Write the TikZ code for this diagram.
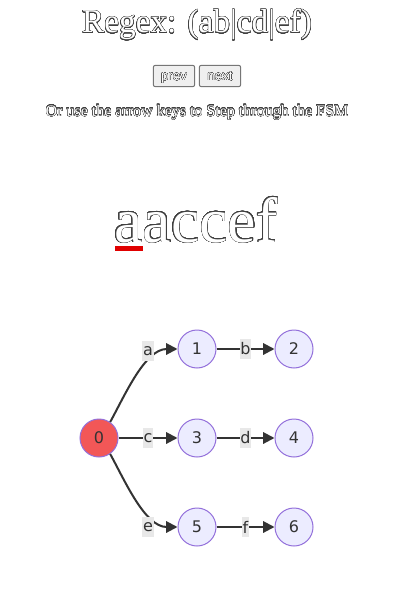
\documentclass[tikz,border=0pt]{standalone}
\usepackage{fontspec}
\setmainfont{Liberation Serif}
\newfontfamily\btnfont{Liberation Sans}
\newfontfamily\graphfont{DejaVu Sans}
\usepackage{contour}
\contournumber{32}
\usetikzlibrary{arrows.meta}
\definecolor{nodefill}{HTML}{ECECFF}
\definecolor{nodedraw}{HTML}{9370DB}
\definecolor{curfill}{HTML}{F25757}
\definecolor{lblbg}{HTML}{E8E8E8}
\definecolor{edgecol}{HTML}{333333}
\definecolor{btnfill}{HTML}{EFEFEF}
\definecolor{btndraw}{HTML}{767676}
\definecolor{markred}{HTML}{E00000}
\newcommand{\hollow}[2]{{\contourlength{#1}\color{white}\contour{black!75}{#2}}}
\tikzset{
  statenode/.style={circle, draw=nodedraw, line width=0.75pt, fill=nodefill, minimum size=28.5pt, inner sep=0pt, font=\graphfont\fontsize{12pt}{14pt}\selectfont, text=edgecol},
  curnode/.style={statenode, fill=curfill},
  edge/.style={draw=edgecol, line width=1.5pt, -{Triangle[length=8.5pt,width=8.5pt]}},
  lbl/.style={fill=lblbg, inner xsep=0.6pt, inner ysep=0pt, minimum height=14.5pt, font=\graphfont\fontsize{12pt}{14pt}\selectfont, text=edgecol},
  btn/.style={draw=btndraw, fill=btnfill, rounded corners=1.5pt, line width=0.75pt, minimum width=31pt, minimum height=16pt, inner sep=0pt},
  btntxt/.style={inner sep=0pt, anchor=base, font=\btnfont\fontsize{10pt}{12pt}\selectfont},
  txt/.style={inner sep=0pt, anchor=base}
}
\begin{document}
\begin{tikzpicture}[x=0.75pt, y=-0.75pt]
\useasboundingbox[fill=white] (0,0) rectangle (418,610);
% title and texts
\node[txt, font=\fontsize{25pt}{29pt}\selectfont] (title) at (197,33) {\hollow{0.3pt}{Regex: (ab|cd|ef)}};
\node[btn] (prev) at (174,76) {};
\node[btn] (next) at (220,76) {};
\node[btntxt] (prevt) at (prev.center |- 0,80.5) {\hollow{0.12pt}{prev}};
\node[btntxt] (nextt) at (next.center |- 0,80.5) {\hollow{0.12pt}{next}};
\node[txt, font=\fontsize{12pt}{14pt}\selectfont] (hint) at (197,116) {\hollow{0.13pt}{Or use the arrow keys to Step through the FSM}};
\node[txt, anchor=base west, font=\fontsize{48pt}{56pt}\selectfont] (input) at (114,242) {\hollow{0.35pt}{aaccef}};
\fill[markred] (115,246) rectangle (143,251);
% states
\node[curnode] (n0) at (99,438) {0};
\node[statenode] (n1) at (197,349) {1};
\node[statenode] (n2) at (294,349) {2};
\node[statenode] (n3) at (197,438) {3};
\node[statenode] (n4) at (294,438) {4};
\node[statenode] (n5) at (197,527) {5};
\node[statenode] (n6) at (294,527) {6};
% transitions
\draw[edge] (n0.55) .. controls (125,395) and (145,349) .. (n1.west);
\draw[edge] (n0.-55) .. controls (125,481) and (145,527) .. (n5.west);
\draw[edge] (n0) -- node[lbl] (lc) {c} (n3);
\draw[edge] (n1) -- node[lbl] (lb) {b} (n2);
\draw[edge] (n3) -- node[lbl] (ld) {d} (n4);
\draw[edge] (n5) -- node[lbl] (lf) {f} (n6);
\node[lbl] (la) at (148,351) {a};
\node[lbl] (le) at (148,527) {e};
\end{tikzpicture}
\end{document}
